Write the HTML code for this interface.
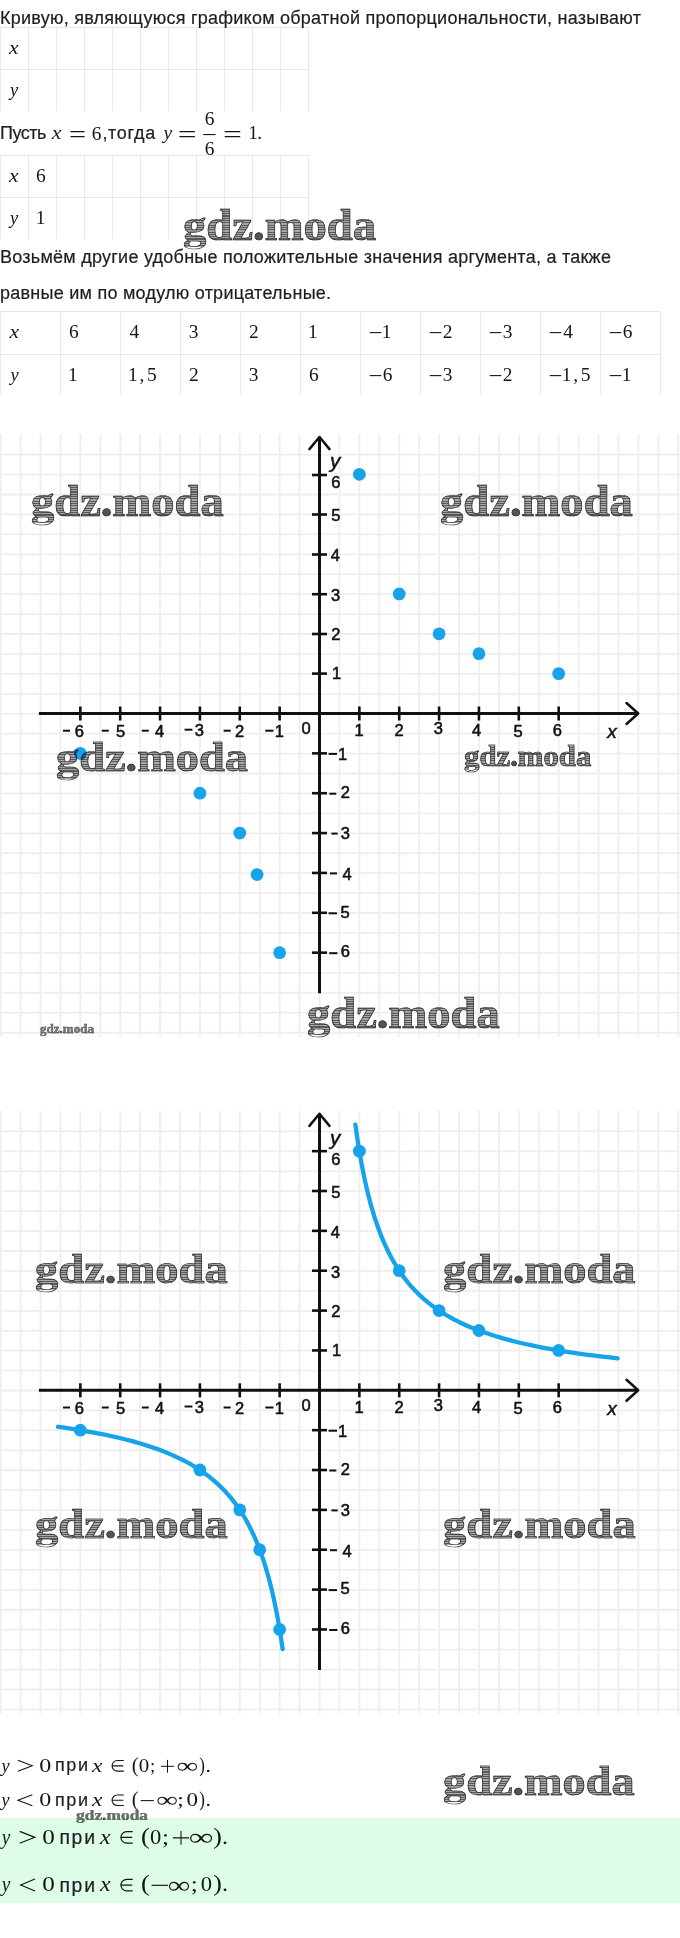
<!DOCTYPE html><html><head><meta charset="utf-8"><style>
*{margin:0;padding:0;box-sizing:border-box}
html,body{width:680px;height:1938px;background:#fff;overflow:hidden}
body{position:relative;font-family:'Liberation Sans', sans-serif;color:#1e1e22}
.t{position:absolute;left:0;white-space:nowrap;font-size:18px;letter-spacing:0.25px;line-height:20px;-webkit-text-stroke:0.2px #1e1e22}
.hl{position:absolute;height:1px;background:#e8e8e8}
.vl{position:absolute;width:1px;background:#e8e8e8}
.wm{position:absolute;white-space:nowrap;font-family:'Liberation Serif', serif;font-weight:bold;line-height:1;transform-origin:0 0;
  background:repeating-linear-gradient(180deg,#5a5a5a 0 1.1px,#a8a8a8 1.1px 2.3px);-webkit-background-clip:text;background-clip:text;
  color:transparent;-webkit-text-stroke:0.7px #333;mix-blend-mode:multiply}
svg{position:absolute;left:0;top:0}
.wd{color:#555;-webkit-text-fill-color:#555}
</style></head><body>
<div style="position:absolute;left:0;top:1818px;width:680px;height:84.5px;background:#ddfde8"></div>
<div style="position:absolute;left:0;top:1817.5px;width:680px;height:1.5px;background:#e4f2e8"></div>
<div class="hl" style="left:0px;top:27px;width:309px"></div>
<div class="hl" style="left:0px;top:69px;width:309px"></div>
<div class="vl" style="left:0px;top:27px;height:84px"></div>
<div class="vl" style="left:28px;top:27px;height:84px"></div>
<div class="vl" style="left:56px;top:27px;height:84px"></div>
<div class="vl" style="left:84px;top:27px;height:84px"></div>
<div class="vl" style="left:112px;top:27px;height:84px"></div>
<div class="vl" style="left:140px;top:27px;height:84px"></div>
<div class="vl" style="left:168px;top:27px;height:84px"></div>
<div class="vl" style="left:196px;top:27px;height:84px"></div>
<div class="vl" style="left:224px;top:27px;height:84px"></div>
<div class="vl" style="left:252px;top:27px;height:84px"></div>
<div class="vl" style="left:280px;top:27px;height:84px"></div>
<div class="vl" style="left:308px;top:27px;height:84px"></div>
<div class="hl" style="left:0px;top:155px;width:309px"></div>
<div class="hl" style="left:0px;top:197px;width:309px"></div>
<div class="vl" style="left:0px;top:155px;height:84px"></div>
<div class="vl" style="left:28px;top:155px;height:84px"></div>
<div class="vl" style="left:56px;top:155px;height:84px"></div>
<div class="vl" style="left:84px;top:155px;height:84px"></div>
<div class="vl" style="left:112px;top:155px;height:84px"></div>
<div class="vl" style="left:140px;top:155px;height:84px"></div>
<div class="vl" style="left:168px;top:155px;height:84px"></div>
<div class="vl" style="left:196px;top:155px;height:84px"></div>
<div class="vl" style="left:224px;top:155px;height:84px"></div>
<div class="vl" style="left:252px;top:155px;height:84px"></div>
<div class="vl" style="left:280px;top:155px;height:84px"></div>
<div class="vl" style="left:308px;top:155px;height:84px"></div>
<div class="hl" style="left:0px;top:311px;width:661px"></div>
<div class="hl" style="left:0px;top:354px;width:661px"></div>
<div class="vl" style="left:0px;top:311px;height:84px"></div>
<div class="vl" style="left:60px;top:311px;height:84px"></div>
<div class="vl" style="left:120px;top:311px;height:84px"></div>
<div class="vl" style="left:180px;top:311px;height:84px"></div>
<div class="vl" style="left:240px;top:311px;height:84px"></div>
<div class="vl" style="left:300px;top:311px;height:84px"></div>
<div class="vl" style="left:360px;top:311px;height:84px"></div>
<div class="vl" style="left:420px;top:311px;height:84px"></div>
<div class="vl" style="left:480px;top:311px;height:84px"></div>
<div class="vl" style="left:540px;top:311px;height:84px"></div>
<div class="vl" style="left:600px;top:311px;height:84px"></div>
<div class="vl" style="left:660px;top:311px;height:84px"></div>
<div class="t" style="top:7.6px;left:0px;">Кривую, являющуюся графиком обратной пропорциональности, называют</div>
<div class="t" style="top:123.1px;left:0px;letter-spacing:-0.5px">Пусть</div>
<div class="t" style="top:123.1px;left:102.5px;">,</div>
<div class="t" style="top:123.1px;left:108.1px;letter-spacing:0.7px">тогда</div>
<div class="t" style="top:247.0px;left:0px;">Возьмём другие удобные положительные значения аргумента, а также</div>
<div class="t" style="top:283.1px;left:0px;">равные им по модулю отрицательные.</div>
<div class="t" style="top:1755.3px;left:55.0px;font-size:18.0px;letter-spacing:1.60px">при</div>
<div class="t" style="top:1789.7px;left:55.0px;font-size:18.0px;letter-spacing:1.60px">при</div>
<div class="t" style="top:1827.3px;left:59.4px;font-size:19.4px;letter-spacing:1.73px">при</div>
<div class="t" style="top:1875.0px;left:59.4px;font-size:19.4px;letter-spacing:1.73px">при</div>
<svg width="680" height="1938" viewBox="0 0 680 1938"><g stroke="#eeeeee" stroke-width="1.8"><line x1="0.67" y1="433.90" x2="0.67" y2="1036.60"/><line x1="20.60" y1="433.90" x2="20.60" y2="1036.60"/><line x1="40.53" y1="433.90" x2="40.53" y2="1036.60"/><line x1="60.46" y1="433.90" x2="60.46" y2="1036.60"/><line x1="80.39" y1="433.90" x2="80.39" y2="1036.60"/><line x1="100.32" y1="433.90" x2="100.32" y2="1036.60"/><line x1="120.25" y1="433.90" x2="120.25" y2="1036.60"/><line x1="140.18" y1="433.90" x2="140.18" y2="1036.60"/><line x1="160.11" y1="433.90" x2="160.11" y2="1036.60"/><line x1="180.04" y1="433.90" x2="180.04" y2="1036.60"/><line x1="199.97" y1="433.90" x2="199.97" y2="1036.60"/><line x1="219.90" y1="433.90" x2="219.90" y2="1036.60"/><line x1="239.83" y1="433.90" x2="239.83" y2="1036.60"/><line x1="259.76" y1="433.90" x2="259.76" y2="1036.60"/><line x1="279.69" y1="433.90" x2="279.69" y2="1036.60"/><line x1="299.62" y1="433.90" x2="299.62" y2="1036.60"/><line x1="319.55" y1="433.90" x2="319.55" y2="1036.60"/><line x1="339.48" y1="433.90" x2="339.48" y2="1036.60"/><line x1="359.41" y1="433.90" x2="359.41" y2="1036.60"/><line x1="379.34" y1="433.90" x2="379.34" y2="1036.60"/><line x1="399.27" y1="433.90" x2="399.27" y2="1036.60"/><line x1="419.20" y1="433.90" x2="419.20" y2="1036.60"/><line x1="439.13" y1="433.90" x2="439.13" y2="1036.60"/><line x1="459.06" y1="433.90" x2="459.06" y2="1036.60"/><line x1="478.99" y1="433.90" x2="478.99" y2="1036.60"/><line x1="498.92" y1="433.90" x2="498.92" y2="1036.60"/><line x1="518.85" y1="433.90" x2="518.85" y2="1036.60"/><line x1="538.78" y1="433.90" x2="538.78" y2="1036.60"/><line x1="558.71" y1="433.90" x2="558.71" y2="1036.60"/><line x1="578.64" y1="433.90" x2="578.64" y2="1036.60"/><line x1="598.57" y1="433.90" x2="598.57" y2="1036.60"/><line x1="618.50" y1="433.90" x2="618.50" y2="1036.60"/><line x1="638.43" y1="433.90" x2="638.43" y2="1036.60"/><line x1="658.36" y1="433.90" x2="658.36" y2="1036.60"/><line x1="678.29" y1="433.90" x2="678.29" y2="1036.60"/><line x1="0" y1="454.63" x2="680" y2="454.63"/><line x1="0" y1="474.56" x2="680" y2="474.56"/><line x1="0" y1="494.49" x2="680" y2="494.49"/><line x1="0" y1="514.42" x2="680" y2="514.42"/><line x1="0" y1="534.35" x2="680" y2="534.35"/><line x1="0" y1="554.28" x2="680" y2="554.28"/><line x1="0" y1="574.21" x2="680" y2="574.21"/><line x1="0" y1="594.14" x2="680" y2="594.14"/><line x1="0" y1="614.07" x2="680" y2="614.07"/><line x1="0" y1="634.00" x2="680" y2="634.00"/><line x1="0" y1="653.93" x2="680" y2="653.93"/><line x1="0" y1="673.86" x2="680" y2="673.86"/><line x1="0" y1="693.79" x2="680" y2="693.79"/><line x1="0" y1="713.72" x2="680" y2="713.72"/><line x1="0" y1="733.65" x2="680" y2="733.65"/><line x1="0" y1="753.58" x2="680" y2="753.58"/><line x1="0" y1="773.51" x2="680" y2="773.51"/><line x1="0" y1="793.44" x2="680" y2="793.44"/><line x1="0" y1="813.37" x2="680" y2="813.37"/><line x1="0" y1="833.30" x2="680" y2="833.30"/><line x1="0" y1="853.23" x2="680" y2="853.23"/><line x1="0" y1="873.16" x2="680" y2="873.16"/><line x1="0" y1="893.09" x2="680" y2="893.09"/><line x1="0" y1="913.02" x2="680" y2="913.02"/><line x1="0" y1="932.95" x2="680" y2="932.95"/><line x1="0" y1="952.88" x2="680" y2="952.88"/><line x1="0" y1="972.81" x2="680" y2="972.81"/><line x1="0" y1="992.74" x2="680" y2="992.74"/><line x1="0" y1="1012.67" x2="680" y2="1012.67"/><line x1="0" y1="1032.60" x2="680" y2="1032.60"/></g><g stroke="#111" stroke-width="3" fill="none" stroke-linejoin="round"><path d="M38.9 713.50 H637"/><path d="M626.5 703.00 L638.2 713.50 L626.5 724.00" stroke-linecap="round" stroke-width="2.5"/><path d="M319.5 993.30 V438.00"/><path d="M309.4 449.10 L319.5 437.00 L329.5 449.10" stroke-linecap="round" stroke-width="2.5"/></g><g stroke="#111" stroke-width="2.6"><line x1="80.34" y1="706.50" x2="80.34" y2="720.50"/><line x1="312" y1="952.66" x2="327" y2="952.66"/><line x1="120.20" y1="706.50" x2="120.20" y2="720.50"/><line x1="312" y1="912.80" x2="327" y2="912.80"/><line x1="160.06" y1="706.50" x2="160.06" y2="720.50"/><line x1="312" y1="872.94" x2="327" y2="872.94"/><line x1="199.92" y1="706.50" x2="199.92" y2="720.50"/><line x1="312" y1="833.08" x2="327" y2="833.08"/><line x1="239.78" y1="706.50" x2="239.78" y2="720.50"/><line x1="312" y1="793.22" x2="327" y2="793.22"/><line x1="279.64" y1="706.50" x2="279.64" y2="720.50"/><line x1="312" y1="753.36" x2="327" y2="753.36"/><line x1="359.36" y1="706.50" x2="359.36" y2="720.50"/><line x1="312" y1="673.60" x2="327" y2="673.60"/><line x1="399.22" y1="706.50" x2="399.22" y2="720.50"/><line x1="312" y1="634.00" x2="327" y2="634.00"/><line x1="439.08" y1="706.50" x2="439.08" y2="720.50"/><line x1="312" y1="594.20" x2="327" y2="594.20"/><line x1="478.94" y1="706.50" x2="478.94" y2="720.50"/><line x1="312" y1="554.50" x2="327" y2="554.50"/><line x1="518.80" y1="706.50" x2="518.80" y2="720.50"/><line x1="312" y1="514.50" x2="327" y2="514.50"/><line x1="558.66" y1="706.50" x2="558.66" y2="720.50"/><line x1="312" y1="475.00" x2="327" y2="475.00"/></g><g font-family="Liberation Sans, sans-serif" font-size="16.5" fill="#111" stroke="#111" stroke-width="0.55" text-anchor="middle"><text x="79.4" y="737.2">6</text><rect x="63.0" y="729.7" width="7.0" height="2" stroke="none"/><text x="120.6" y="737.2">5</text><rect x="101.8" y="729.7" width="7.0" height="2" stroke="none"/><text x="159.6" y="737.2">4</text><rect x="141.8" y="729.7" width="7.0" height="2" stroke="none"/><text x="199.4" y="736.2">3</text><rect x="184.6" y="728.7" width="7.8" height="2" stroke="none"/><text x="239.7" y="737.2">2</text><rect x="223.6" y="729.7" width="7.1" height="2" stroke="none"/><text x="279.4" y="737.2">1</text><rect x="265.3" y="729.7" width="8.2" height="2" stroke="none"/><text x="306.2" y="733.8">0</text><text x="359.2" y="735.8">1</text><text x="399.1" y="736.2">2</text><text x="438.3" y="734.4">3</text><text x="476.7" y="736.2">4</text><text x="518.2" y="737.0">5</text><text x="557.4" y="736.2">6</text><text x="335.9" y="487.7">6</text><text x="335.9" y="521.2">5</text><text x="335.3" y="560.8">4</text><text x="335.6" y="601.0">3</text><text x="335.9" y="640.0">2</text><text x="336.6" y="678.9">1</text><text x="342.5" y="760.0">1</text><rect x="328.6" y="752.9" width="8.4" height="2" stroke="none"/><text x="345.3" y="798.3">2</text><rect x="329.3" y="792.7" width="7.0" height="2" stroke="none"/><text x="345.3" y="838.8">3</text><rect x="331.4" y="832.6" width="6.3" height="2" stroke="none"/><text x="347.0" y="880.0">4</text><rect x="330.0" y="872.4" width="7.0" height="2" stroke="none"/><text x="345.0" y="917.6">5</text><rect x="328.6" y="912.3" width="8.4" height="2" stroke="none"/><text x="345.3" y="957.3">6</text><rect x="329.3" y="952.2" width="8.1" height="2" stroke="none"/></g><g font-family="Liberation Sans, sans-serif" font-style="italic" fill="#111" stroke="#111" stroke-width="0.5"><text x="330.0" y="467.9" font-size="20.5">y</text><text x="607.3" y="738.0" font-size="19">x</text></g><circle cx="359.36" cy="474.34" r="6.4" fill="#17a3ea"/><circle cx="399.22" cy="593.92" r="6.4" fill="#17a3ea"/><circle cx="439.08" cy="633.78" r="6.4" fill="#17a3ea"/><circle cx="478.94" cy="653.71" r="6.4" fill="#17a3ea"/><circle cx="558.66" cy="673.64" r="6.4" fill="#17a3ea"/><circle cx="279.64" cy="952.66" r="6.4" fill="#17a3ea"/><circle cx="239.78" cy="833.08" r="6.4" fill="#17a3ea"/><circle cx="199.92" cy="793.22" r="6.4" fill="#17a3ea"/><circle cx="257.08" cy="874.53" r="6.4" fill="#17a3ea"/><circle cx="80.34" cy="753.36" r="6.4" fill="#17a3ea"/><g stroke="#eeeeee" stroke-width="1.8"><line x1="0.67" y1="1110.70" x2="0.67" y2="1713.40"/><line x1="20.60" y1="1110.70" x2="20.60" y2="1713.40"/><line x1="40.53" y1="1110.70" x2="40.53" y2="1713.40"/><line x1="60.46" y1="1110.70" x2="60.46" y2="1713.40"/><line x1="80.39" y1="1110.70" x2="80.39" y2="1713.40"/><line x1="100.32" y1="1110.70" x2="100.32" y2="1713.40"/><line x1="120.25" y1="1110.70" x2="120.25" y2="1713.40"/><line x1="140.18" y1="1110.70" x2="140.18" y2="1713.40"/><line x1="160.11" y1="1110.70" x2="160.11" y2="1713.40"/><line x1="180.04" y1="1110.70" x2="180.04" y2="1713.40"/><line x1="199.97" y1="1110.70" x2="199.97" y2="1713.40"/><line x1="219.90" y1="1110.70" x2="219.90" y2="1713.40"/><line x1="239.83" y1="1110.70" x2="239.83" y2="1713.40"/><line x1="259.76" y1="1110.70" x2="259.76" y2="1713.40"/><line x1="279.69" y1="1110.70" x2="279.69" y2="1713.40"/><line x1="299.62" y1="1110.70" x2="299.62" y2="1713.40"/><line x1="319.55" y1="1110.70" x2="319.55" y2="1713.40"/><line x1="339.48" y1="1110.70" x2="339.48" y2="1713.40"/><line x1="359.41" y1="1110.70" x2="359.41" y2="1713.40"/><line x1="379.34" y1="1110.70" x2="379.34" y2="1713.40"/><line x1="399.27" y1="1110.70" x2="399.27" y2="1713.40"/><line x1="419.20" y1="1110.70" x2="419.20" y2="1713.40"/><line x1="439.13" y1="1110.70" x2="439.13" y2="1713.40"/><line x1="459.06" y1="1110.70" x2="459.06" y2="1713.40"/><line x1="478.99" y1="1110.70" x2="478.99" y2="1713.40"/><line x1="498.92" y1="1110.70" x2="498.92" y2="1713.40"/><line x1="518.85" y1="1110.70" x2="518.85" y2="1713.40"/><line x1="538.78" y1="1110.70" x2="538.78" y2="1713.40"/><line x1="558.71" y1="1110.70" x2="558.71" y2="1713.40"/><line x1="578.64" y1="1110.70" x2="578.64" y2="1713.40"/><line x1="598.57" y1="1110.70" x2="598.57" y2="1713.40"/><line x1="618.50" y1="1110.70" x2="618.50" y2="1713.40"/><line x1="638.43" y1="1110.70" x2="638.43" y2="1713.40"/><line x1="658.36" y1="1110.70" x2="658.36" y2="1713.40"/><line x1="678.29" y1="1110.70" x2="678.29" y2="1713.40"/><line x1="0" y1="1131.43" x2="680" y2="1131.43"/><line x1="0" y1="1151.36" x2="680" y2="1151.36"/><line x1="0" y1="1171.29" x2="680" y2="1171.29"/><line x1="0" y1="1191.22" x2="680" y2="1191.22"/><line x1="0" y1="1211.15" x2="680" y2="1211.15"/><line x1="0" y1="1231.08" x2="680" y2="1231.08"/><line x1="0" y1="1251.01" x2="680" y2="1251.01"/><line x1="0" y1="1270.94" x2="680" y2="1270.94"/><line x1="0" y1="1290.87" x2="680" y2="1290.87"/><line x1="0" y1="1310.80" x2="680" y2="1310.80"/><line x1="0" y1="1330.73" x2="680" y2="1330.73"/><line x1="0" y1="1350.66" x2="680" y2="1350.66"/><line x1="0" y1="1370.59" x2="680" y2="1370.59"/><line x1="0" y1="1390.52" x2="680" y2="1390.52"/><line x1="0" y1="1410.45" x2="680" y2="1410.45"/><line x1="0" y1="1430.38" x2="680" y2="1430.38"/><line x1="0" y1="1450.31" x2="680" y2="1450.31"/><line x1="0" y1="1470.24" x2="680" y2="1470.24"/><line x1="0" y1="1490.17" x2="680" y2="1490.17"/><line x1="0" y1="1510.10" x2="680" y2="1510.10"/><line x1="0" y1="1530.03" x2="680" y2="1530.03"/><line x1="0" y1="1549.96" x2="680" y2="1549.96"/><line x1="0" y1="1569.89" x2="680" y2="1569.89"/><line x1="0" y1="1589.82" x2="680" y2="1589.82"/><line x1="0" y1="1609.75" x2="680" y2="1609.75"/><line x1="0" y1="1629.68" x2="680" y2="1629.68"/><line x1="0" y1="1649.61" x2="680" y2="1649.61"/><line x1="0" y1="1669.54" x2="680" y2="1669.54"/><line x1="0" y1="1689.47" x2="680" y2="1689.47"/><line x1="0" y1="1709.40" x2="680" y2="1709.40"/></g><g stroke="#111" stroke-width="3" fill="none" stroke-linejoin="round"><path d="M38.9 1390.30 H637"/><path d="M626.5 1379.80 L638.2 1390.30 L626.5 1400.80" stroke-linecap="round" stroke-width="2.5"/><path d="M319.5 1670.10 V1114.80"/><path d="M309.4 1125.90 L319.5 1113.80 L329.5 1125.90" stroke-linecap="round" stroke-width="2.5"/></g><g stroke="#111" stroke-width="2.6"><line x1="80.34" y1="1383.30" x2="80.34" y2="1397.30"/><line x1="312" y1="1629.46" x2="327" y2="1629.46"/><line x1="120.20" y1="1383.30" x2="120.20" y2="1397.30"/><line x1="312" y1="1589.60" x2="327" y2="1589.60"/><line x1="160.06" y1="1383.30" x2="160.06" y2="1397.30"/><line x1="312" y1="1549.74" x2="327" y2="1549.74"/><line x1="199.92" y1="1383.30" x2="199.92" y2="1397.30"/><line x1="312" y1="1509.88" x2="327" y2="1509.88"/><line x1="239.78" y1="1383.30" x2="239.78" y2="1397.30"/><line x1="312" y1="1470.02" x2="327" y2="1470.02"/><line x1="279.64" y1="1383.30" x2="279.64" y2="1397.30"/><line x1="312" y1="1430.16" x2="327" y2="1430.16"/><line x1="359.36" y1="1383.30" x2="359.36" y2="1397.30"/><line x1="312" y1="1350.44" x2="327" y2="1350.44"/><line x1="399.22" y1="1383.30" x2="399.22" y2="1397.30"/><line x1="312" y1="1310.58" x2="327" y2="1310.58"/><line x1="439.08" y1="1383.30" x2="439.08" y2="1397.30"/><line x1="312" y1="1270.72" x2="327" y2="1270.72"/><line x1="478.94" y1="1383.30" x2="478.94" y2="1397.30"/><line x1="312" y1="1230.86" x2="327" y2="1230.86"/><line x1="518.80" y1="1383.30" x2="518.80" y2="1397.30"/><line x1="312" y1="1191.00" x2="327" y2="1191.00"/><line x1="558.66" y1="1383.30" x2="558.66" y2="1397.30"/><line x1="312" y1="1151.14" x2="327" y2="1151.14"/></g><g font-family="Liberation Sans, sans-serif" font-size="16.5" fill="#111" stroke="#111" stroke-width="0.55" text-anchor="middle"><text x="79.4" y="1414.0">6</text><rect x="63.0" y="1406.5" width="7.0" height="2" stroke="none"/><text x="120.6" y="1414.0">5</text><rect x="101.8" y="1406.5" width="7.0" height="2" stroke="none"/><text x="159.6" y="1414.0">4</text><rect x="141.8" y="1406.5" width="7.0" height="2" stroke="none"/><text x="199.4" y="1413.0">3</text><rect x="184.6" y="1405.5" width="7.8" height="2" stroke="none"/><text x="239.7" y="1414.0">2</text><rect x="223.6" y="1406.5" width="7.1" height="2" stroke="none"/><text x="279.4" y="1414.0">1</text><rect x="265.3" y="1406.5" width="8.2" height="2" stroke="none"/><text x="306.2" y="1410.6">0</text><text x="359.2" y="1412.6">1</text><text x="399.1" y="1413.0">2</text><text x="438.3" y="1411.2">3</text><text x="476.7" y="1413.0">4</text><text x="518.2" y="1413.8">5</text><text x="557.4" y="1413.0">6</text><text x="335.9" y="1164.5">6</text><text x="335.9" y="1198.0">5</text><text x="335.3" y="1237.6">4</text><text x="335.6" y="1277.8">3</text><text x="335.9" y="1316.8">2</text><text x="336.6" y="1355.7">1</text><text x="342.5" y="1436.8">1</text><rect x="328.6" y="1429.7" width="8.4" height="2" stroke="none"/><text x="345.3" y="1475.1">2</text><rect x="329.3" y="1469.5" width="7.0" height="2" stroke="none"/><text x="345.3" y="1515.6">3</text><rect x="331.4" y="1509.4" width="6.3" height="2" stroke="none"/><text x="347.0" y="1556.8">4</text><rect x="330.0" y="1549.2" width="7.0" height="2" stroke="none"/><text x="345.0" y="1594.4">5</text><rect x="328.6" y="1589.1" width="8.4" height="2" stroke="none"/><text x="345.3" y="1634.1">6</text><rect x="329.3" y="1629.0" width="8.1" height="2" stroke="none"/></g><g font-family="Liberation Sans, sans-serif" font-style="italic" fill="#111" stroke="#111" stroke-width="0.5"><text x="330.0" y="1144.7" font-size="20.5">y</text><text x="607.3" y="1414.8" font-size="19">x</text></g><path d="M355.37 1124.57 L356.34 1131.51 L357.32 1138.27 L358.34 1144.85 L359.38 1151.26 L360.45 1157.51 L361.55 1163.59 L362.68 1169.51 L363.83 1175.28 L365.02 1180.90 L366.25 1186.37 L367.50 1191.69 L368.79 1196.88 L370.11 1201.93 L371.47 1206.86 L372.86 1211.65 L374.29 1216.31 L375.76 1220.86 L377.27 1225.29 L378.82 1229.60 L380.41 1233.79 L382.04 1237.88 L383.72 1241.86 L385.44 1245.74 L387.21 1249.52 L389.03 1253.20 L390.90 1256.78 L392.81 1260.26 L394.78 1263.66 L396.80 1266.97 L398.87 1270.19 L401.00 1273.33 L403.18 1276.38 L405.43 1279.36 L407.73 1282.26 L410.10 1285.08 L412.53 1287.83 L415.03 1290.51 L417.59 1293.11 L420.22 1295.65 L422.92 1298.12 L425.70 1300.53 L428.54 1302.88 L431.47 1305.16 L434.47 1307.38 L437.56 1309.55 L440.72 1311.66 L443.97 1313.71 L447.31 1315.72 L450.74 1317.66 L454.26 1319.56 L457.88 1321.41 L461.59 1323.21 L465.40 1324.96 L469.31 1326.67 L473.33 1328.33 L477.46 1329.95 L481.69 1331.53 L486.05 1333.06 L490.51 1334.56 L495.10 1336.01 L499.81 1337.43 L504.65 1338.81 L509.61 1340.16 L514.71 1341.47 L519.95 1342.74 L525.33 1343.98 L530.85 1345.19 L536.52 1346.37 L542.34 1347.52 L548.31 1348.64 L554.45 1349.73 L560.75 1350.79 L567.22 1351.82 L573.87 1352.82 L580.69 1353.80 L587.70 1354.76 L594.89 1355.68 L602.28 1356.59 L609.86 1357.47 L617.65 1358.33" fill="none" stroke="#17a3ea" stroke-width="4.3" stroke-linecap="round" stroke-linejoin="round"/><path d="M282.67 1649.13 L281.76 1642.87 L280.82 1636.75 L279.86 1630.79 L278.88 1624.97 L277.87 1619.29 L276.84 1613.75 L275.78 1608.34 L274.69 1603.06 L273.58 1597.91 L272.44 1592.89 L271.28 1587.98 L270.08 1583.20 L268.86 1578.53 L267.60 1573.98 L266.31 1569.53 L264.99 1565.19 L263.64 1560.96 L262.26 1556.83 L260.84 1552.80 L259.38 1548.87 L257.89 1545.03 L256.36 1541.28 L254.79 1537.63 L253.19 1534.06 L251.55 1530.58 L249.86 1527.19 L248.13 1523.88 L246.36 1520.64 L244.55 1517.49 L242.69 1514.41 L240.78 1511.41 L238.83 1508.47 L236.83 1505.61 L234.78 1502.82 L232.68 1500.10 L230.53 1497.44 L228.32 1494.85 L226.06 1492.32 L223.74 1489.85 L221.36 1487.44 L218.93 1485.09 L216.44 1482.80 L213.88 1480.56 L211.26 1478.37 L208.58 1476.24 L205.82 1474.16 L203.00 1472.13 L200.12 1470.15 L197.15 1468.22 L194.12 1466.33 L191.01 1464.49 L187.82 1462.70 L184.56 1460.94 L181.21 1459.23 L177.78 1457.57 L174.26 1455.94 L170.66 1454.35 L166.97 1452.80 L163.19 1451.29 L159.31 1449.81 L155.34 1448.37 L151.27 1446.96 L147.09 1445.59 L142.82 1444.25 L138.43 1442.95 L133.94 1441.67 L129.34 1440.43 L124.62 1439.22 L119.79 1438.03 L114.84 1436.88 L109.76 1435.75 L104.56 1434.65 L99.23 1433.58 L93.77 1432.53 L88.17 1431.51 L82.43 1430.51 L76.55 1429.54 L70.52 1428.59 L64.35 1427.66 L58.02 1426.76" fill="none" stroke="#17a3ea" stroke-width="4.3" stroke-linecap="round" stroke-linejoin="round"/><circle cx="359.36" cy="1151.14" r="6.4" fill="#17a3ea"/><circle cx="399.22" cy="1270.72" r="6.4" fill="#17a3ea"/><circle cx="439.08" cy="1310.58" r="6.4" fill="#17a3ea"/><circle cx="478.94" cy="1330.51" r="6.4" fill="#17a3ea"/><circle cx="558.66" cy="1350.44" r="6.4" fill="#17a3ea"/><circle cx="279.64" cy="1629.46" r="6.4" fill="#17a3ea"/><circle cx="239.78" cy="1509.88" r="6.4" fill="#17a3ea"/><circle cx="199.92" cy="1470.02" r="6.4" fill="#17a3ea"/><circle cx="259.71" cy="1549.74" r="6.4" fill="#17a3ea"/><circle cx="80.34" cy="1430.16" r="6.4" fill="#17a3ea"/></svg>
<svg width="680" height="1938" viewBox="0 0 680 1938"><text transform="translate(9.02,53.50) scale(1.112,1.000)" font-family="Liberation Serif" font-style="italic" font-weight="normal" font-size="19.40" fill="#151515" >x</text><text transform="translate(9.97,95.50) scale(0.953,1.000)" font-family="Liberation Serif" font-style="italic" font-weight="normal" font-size="19.40" fill="#151515" >y</text><text transform="translate(9.02,181.60) scale(1.112,1.000)" font-family="Liberation Serif" font-style="italic" font-weight="normal" font-size="19.40" fill="#151515" >x</text><text transform="translate(9.97,224.20) scale(0.953,1.000)" font-family="Liberation Serif" font-style="italic" font-weight="normal" font-size="19.40" fill="#151515" >y</text><text transform="translate(35.93,182.00)" font-family="Liberation Serif" font-style="normal" font-weight="normal" font-size="19.40" fill="#151515" >6</text><text transform="translate(35.75,224.20)" font-family="Liberation Serif" font-style="normal" font-weight="normal" font-size="19.40" fill="#151515" >1</text><text transform="translate(9.52,338.00) scale(1.112,1.000)" font-family="Liberation Serif" font-style="italic" font-weight="normal" font-size="19.40" fill="#151515" >x</text><text transform="translate(10.47,381.20) scale(0.953,1.000)" font-family="Liberation Serif" font-style="italic" font-weight="normal" font-size="19.40" fill="#151515" >y</text><text transform="translate(68.93,338.00)" font-family="Liberation Serif" font-style="normal" font-weight="normal" font-size="19.40" fill="#151515" >6</text><text transform="translate(68.05,381.20)" font-family="Liberation Serif" font-style="normal" font-weight="normal" font-size="19.40" fill="#151515" >1</text><text transform="translate(129.41,338.00)" font-family="Liberation Serif" font-style="normal" font-weight="normal" font-size="19.40" fill="#151515" >4</text><text transform="translate(128.05,381.20)" font-family="Liberation Serif" font-style="normal" font-weight="normal" font-size="19.40" fill="#151515" >1</text><text transform="translate(139.41,381.20)" font-family="Liberation Serif" font-style="normal" font-weight="normal" font-size="19.40" fill="#151515" >,</text><text transform="translate(147.03,381.20)" font-family="Liberation Serif" font-style="normal" font-weight="normal" font-size="19.40" fill="#151515" >5</text><text transform="translate(188.83,338.00)" font-family="Liberation Serif" font-style="normal" font-weight="normal" font-size="19.40" fill="#151515" >3</text><text transform="translate(188.93,381.20)" font-family="Liberation Serif" font-style="normal" font-weight="normal" font-size="19.40" fill="#151515" >2</text><text transform="translate(248.93,338.00)" font-family="Liberation Serif" font-style="normal" font-weight="normal" font-size="19.40" fill="#151515" >2</text><text transform="translate(248.83,381.20)" font-family="Liberation Serif" font-style="normal" font-weight="normal" font-size="19.40" fill="#151515" >3</text><text transform="translate(308.05,338.00)" font-family="Liberation Serif" font-style="normal" font-weight="normal" font-size="19.40" fill="#151515" >1</text><text transform="translate(308.93,381.20)" font-family="Liberation Serif" font-style="normal" font-weight="normal" font-size="19.40" fill="#151515" >6</text><text transform="translate(368.55,339.81) scale(1.286,1.134)" font-family="Liberation Serif" font-style="normal" font-weight="normal" font-size="19.40" fill="#151515" >−</text><text transform="translate(381.85,338.00)" font-family="Liberation Serif" font-style="normal" font-weight="normal" font-size="19.40" fill="#151515" >1</text><text transform="translate(368.55,383.01) scale(1.286,1.134)" font-family="Liberation Serif" font-style="normal" font-weight="normal" font-size="19.40" fill="#151515" >−</text><text transform="translate(382.73,381.20)" font-family="Liberation Serif" font-style="normal" font-weight="normal" font-size="19.40" fill="#151515" >6</text><text transform="translate(428.55,339.81) scale(1.286,1.134)" font-family="Liberation Serif" font-style="normal" font-weight="normal" font-size="19.40" fill="#151515" >−</text><text transform="translate(442.73,338.00)" font-family="Liberation Serif" font-style="normal" font-weight="normal" font-size="19.40" fill="#151515" >2</text><text transform="translate(428.55,383.01) scale(1.286,1.134)" font-family="Liberation Serif" font-style="normal" font-weight="normal" font-size="19.40" fill="#151515" >−</text><text transform="translate(442.63,381.20)" font-family="Liberation Serif" font-style="normal" font-weight="normal" font-size="19.40" fill="#151515" >3</text><text transform="translate(488.55,339.81) scale(1.286,1.134)" font-family="Liberation Serif" font-style="normal" font-weight="normal" font-size="19.40" fill="#151515" >−</text><text transform="translate(502.63,338.00)" font-family="Liberation Serif" font-style="normal" font-weight="normal" font-size="19.40" fill="#151515" >3</text><text transform="translate(488.55,383.01) scale(1.286,1.134)" font-family="Liberation Serif" font-style="normal" font-weight="normal" font-size="19.40" fill="#151515" >−</text><text transform="translate(502.73,381.20)" font-family="Liberation Serif" font-style="normal" font-weight="normal" font-size="19.40" fill="#151515" >2</text><text transform="translate(548.55,339.81) scale(1.286,1.134)" font-family="Liberation Serif" font-style="normal" font-weight="normal" font-size="19.40" fill="#151515" >−</text><text transform="translate(563.21,338.00)" font-family="Liberation Serif" font-style="normal" font-weight="normal" font-size="19.40" fill="#151515" >4</text><text transform="translate(548.55,383.01) scale(1.286,1.134)" font-family="Liberation Serif" font-style="normal" font-weight="normal" font-size="19.40" fill="#151515" >−</text><text transform="translate(561.85,381.20)" font-family="Liberation Serif" font-style="normal" font-weight="normal" font-size="19.40" fill="#151515" >1</text><text transform="translate(573.21,381.20)" font-family="Liberation Serif" font-style="normal" font-weight="normal" font-size="19.40" fill="#151515" >,</text><text transform="translate(580.83,381.20)" font-family="Liberation Serif" font-style="normal" font-weight="normal" font-size="19.40" fill="#151515" >5</text><text transform="translate(608.55,339.81) scale(1.286,1.134)" font-family="Liberation Serif" font-style="normal" font-weight="normal" font-size="19.40" fill="#151515" >−</text><text transform="translate(622.73,338.00)" font-family="Liberation Serif" font-style="normal" font-weight="normal" font-size="19.40" fill="#151515" >6</text><text transform="translate(608.55,383.01) scale(1.286,1.134)" font-family="Liberation Serif" font-style="normal" font-weight="normal" font-size="19.40" fill="#151515" >−</text><text transform="translate(621.85,381.20)" font-family="Liberation Serif" font-style="normal" font-weight="normal" font-size="19.40" fill="#151515" >1</text><text transform="translate(51.82,139.30) scale(1.124,1.000)" font-family="Liberation Serif" font-style="italic" font-weight="normal" font-size="19.40" fill="#151515" >x</text><text transform="translate(69.08,141.86) scale(1.563,1.196)" font-family="Liberation Serif" font-style="normal" font-weight="normal" font-size="19.40" fill="#151515" >=</text><text transform="translate(91.83,139.50)" font-family="Liberation Serif" font-style="normal" font-weight="normal" font-size="19.40" fill="#151515" >6</text><text transform="translate(163.55,139.30)" font-family="Liberation Serif" font-style="italic" font-weight="normal" font-size="19.40" fill="#151515" >y</text><text transform="translate(177.83,141.86) scale(1.718,1.196)" font-family="Liberation Serif" font-style="normal" font-weight="normal" font-size="19.40" fill="#151515" >=</text><text transform="translate(204.63,125.20)" font-family="Liberation Serif" font-style="normal" font-weight="normal" font-size="19.40" fill="#151515" >6</text><rect x="203.2" y="134" width="12.4" height="1.1" fill="#151515"/><text transform="translate(204.63,154.60)" font-family="Liberation Serif" font-style="normal" font-weight="normal" font-size="19.40" fill="#151515" >6</text><text transform="translate(223.02,141.86) scale(1.729,1.196)" font-family="Liberation Serif" font-style="normal" font-weight="normal" font-size="19.40" fill="#151515" >=</text><text transform="translate(248.25,139.30)" font-family="Liberation Serif" font-style="normal" font-weight="normal" font-size="19.40" fill="#151515" >1</text><text transform="translate(257.24,139.30)" font-family="Liberation Serif" font-style="normal" font-weight="normal" font-size="19.40" fill="#151515" >.</text><text transform="translate(1.54,1771.50) scale(0.934,1.000)" font-family="Liberation Serif" font-style="italic" font-weight="normal" font-size="19.40" fill="#151515" >y</text><path d="M17.90 1760.30 L32.20 1765.80 L17.90 1771.30" fill="none" stroke="#151515" stroke-width="1.05"/><text transform="translate(39.24,1771.50) scale(1.240,1.000)" font-family="Liberation Serif" font-style="normal" font-weight="normal" font-size="19.40" fill="#151515" >0</text><text transform="translate(92.04,1771.50) scale(1.216,1.000)" font-family="Liberation Serif" font-style="italic" font-weight="normal" font-size="19.40" fill="#151515" >x</text><path d="M123.80 1760.55 H117.35 A5.30 5.30 0 0 0 117.35 1771.15 H123.80 M112.05 1765.85 H123.30" fill="none" stroke="#151515" stroke-width="1.1"/><text transform="translate(131.66,1771.67) scale(1.071,1.110)" font-family="Liberation Serif" font-style="normal" font-weight="normal" font-size="19.40" fill="#151515" >(</text><text transform="translate(199.19,1771.73) scale(0.872,1.123)" font-family="Liberation Serif" font-style="normal" font-weight="normal" font-size="19.40" fill="#151515" >)</text><text transform="translate(138.86,1771.50) scale(1.080,1.000)" font-family="Liberation Serif" font-style="normal" font-weight="normal" font-size="19.40" fill="#151515" >0</text><text transform="translate(150.33,1771.50) scale(0.893,1.000)" font-family="Liberation Serif" font-style="normal" font-weight="normal" font-size="19.40" fill="#151515" >;</text><text transform="translate(205.39,1771.50) scale(1.117,1.000)" font-family="Liberation Serif" font-style="normal" font-weight="normal" font-size="19.40" fill="#151515" >.</text><text transform="translate(176.38,1772.97) scale(1.575,1.125)" font-family="Liberation Serif" font-style="normal" font-weight="normal" font-size="19.40" fill="#151515" >∞</text><path d="M160.90 1766.30 H174.10 M167.50 1759.90 V1772.70" fill="none" stroke="#151515" stroke-width="1.00"/><text transform="translate(1.54,1805.90) scale(0.934,1.000)" font-family="Liberation Serif" font-style="italic" font-weight="normal" font-size="19.40" fill="#151515" >y</text><path d="M32.30 1794.70 L18.00 1800.20 L32.30 1805.70" fill="none" stroke="#151515" stroke-width="1.05"/><text transform="translate(39.24,1805.90) scale(1.240,1.000)" font-family="Liberation Serif" font-style="normal" font-weight="normal" font-size="19.40" fill="#151515" >0</text><text transform="translate(92.04,1805.90) scale(1.216,1.000)" font-family="Liberation Serif" font-style="italic" font-weight="normal" font-size="19.40" fill="#151515" >x</text><path d="M123.80 1794.95 H117.35 A5.30 5.30 0 0 0 117.35 1805.55 H123.80 M112.05 1800.25 H123.30" fill="none" stroke="#151515" stroke-width="1.1"/><text transform="translate(131.66,1806.07) scale(1.071,1.110)" font-family="Liberation Serif" font-style="normal" font-weight="normal" font-size="19.40" fill="#151515" >(</text><text transform="translate(199.19,1806.13) scale(0.872,1.123)" font-family="Liberation Serif" font-style="normal" font-weight="normal" font-size="19.40" fill="#151515" >)</text><text transform="translate(186.38,1805.90) scale(1.190,1.000)" font-family="Liberation Serif" font-style="normal" font-weight="normal" font-size="19.40" fill="#151515" >0</text><text transform="translate(177.33,1805.90) scale(1.203,1.000)" font-family="Liberation Serif" font-style="normal" font-weight="normal" font-size="19.40" fill="#151515" >;</text><text transform="translate(205.39,1805.90) scale(1.117,1.000)" font-family="Liberation Serif" font-style="normal" font-weight="normal" font-size="19.40" fill="#151515" >.</text><text transform="translate(156.18,1807.37) scale(1.575,1.125)" font-family="Liberation Serif" font-style="normal" font-weight="normal" font-size="19.40" fill="#151515" >∞</text><text transform="translate(139.18,1807.71) scale(1.463,1.134)" font-family="Liberation Serif" font-style="normal" font-weight="normal" font-size="19.40" fill="#151515" >−</text><text transform="translate(1.64,1843.50) scale(0.919,1.000)" font-family="Liberation Serif" font-style="italic" font-weight="normal" font-size="20.95" fill="#151515" >y</text><path d="M19.70 1831.40 L34.90 1837.35 L19.70 1843.30" fill="none" stroke="#151515" stroke-width="1.13"/><text transform="translate(42.19,1843.50) scale(1.205,1.000)" font-family="Liberation Serif" font-style="normal" font-weight="normal" font-size="20.95" fill="#151515" >0</text><text transform="translate(99.94,1843.50) scale(1.137,1.000)" font-family="Liberation Serif" font-style="italic" font-weight="normal" font-size="20.95" fill="#151515" >x</text><path d="M132.70 1831.67 H126.61 A5.72 5.72 0 0 0 126.61 1843.11 H132.70 M120.89 1837.39 H132.20" fill="none" stroke="#151515" stroke-width="1.1880000000000002"/><text transform="translate(141.12,1843.68) scale(1.254,1.110)" font-family="Liberation Serif" font-style="normal" font-weight="normal" font-size="20.95" fill="#151515" >(</text><text transform="translate(213.23,1843.74) scale(1.230,1.123)" font-family="Liberation Serif" font-style="normal" font-weight="normal" font-size="20.95" fill="#151515" >)</text><text transform="translate(150.00,1843.50) scale(1.080,1.000)" font-family="Liberation Serif" font-style="normal" font-weight="normal" font-size="20.95" fill="#151515" >0</text><text transform="translate(162.03,1843.50) scale(1.209,1.000)" font-family="Liberation Serif" font-style="normal" font-weight="normal" font-size="20.95" fill="#151515" >;</text><text transform="translate(221.93,1843.50) scale(1.153,1.000)" font-family="Liberation Serif" font-style="normal" font-weight="normal" font-size="20.95" fill="#151515" >.</text><text transform="translate(188.71,1845.09) scale(1.654,1.125)" font-family="Liberation Serif" font-style="normal" font-weight="normal" font-size="20.95" fill="#151515" >∞</text><path d="M172.90 1837.88 H189.10 M181.00 1830.97 V1844.80" fill="none" stroke="#151515" stroke-width="1.08"/><text transform="translate(1.64,1891.20) scale(0.919,1.000)" font-family="Liberation Serif" font-style="italic" font-weight="normal" font-size="20.95" fill="#151515" >y</text><path d="M35.00 1879.10 L20.70 1885.05 L35.00 1891.00" fill="none" stroke="#151515" stroke-width="1.13"/><text transform="translate(42.19,1891.20) scale(1.205,1.000)" font-family="Liberation Serif" font-style="normal" font-weight="normal" font-size="20.95" fill="#151515" >0</text><text transform="translate(99.94,1891.20) scale(1.137,1.000)" font-family="Liberation Serif" font-style="italic" font-weight="normal" font-size="20.95" fill="#151515" >x</text><path d="M132.70 1879.37 H126.61 A5.72 5.72 0 0 0 126.61 1890.81 H132.70 M120.89 1885.09 H132.20" fill="none" stroke="#151515" stroke-width="1.1880000000000002"/><text transform="translate(141.12,1891.38) scale(1.254,1.110)" font-family="Liberation Serif" font-style="normal" font-weight="normal" font-size="20.95" fill="#151515" >(</text><text transform="translate(213.23,1891.44) scale(1.230,1.123)" font-family="Liberation Serif" font-style="normal" font-weight="normal" font-size="20.95" fill="#151515" >)</text><text transform="translate(200.70,1891.20) scale(1.080,1.000)" font-family="Liberation Serif" font-style="normal" font-weight="normal" font-size="20.95" fill="#151515" >0</text><text transform="translate(190.73,1891.20) scale(1.209,1.000)" font-family="Liberation Serif" font-style="normal" font-weight="normal" font-size="20.95" fill="#151515" >;</text><text transform="translate(221.93,1891.20) scale(1.153,1.000)" font-family="Liberation Serif" font-style="normal" font-weight="normal" font-size="20.95" fill="#151515" >.</text><text transform="translate(167.73,1892.79) scale(1.511,1.125)" font-family="Liberation Serif" font-style="normal" font-weight="normal" font-size="20.95" fill="#151515" >∞</text><text transform="translate(150.05,1893.15) scale(1.673,1.134)" font-family="Liberation Serif" font-style="normal" font-weight="normal" font-size="20.95" fill="#151515" >−</text></svg>
<div class="wm" style="left:183.1px;top:203.7px;font-size:43.45px;transform:scaleX(1.074);">gdz<span class="wd">.</span>moda</div>
<div class="wm" style="left:31.1px;top:480.1px;font-size:43.31px;transform:scaleX(1.075);">gdz<span class="wd">.</span>moda</div>
<div class="wm" style="left:440.1px;top:480.1px;font-size:43.31px;transform:scaleX(1.076);">gdz<span class="wd">.</span>moda</div>
<div class="wm" style="left:55.6px;top:736.2px;font-size:42.88px;transform:scaleX(1.082);">gdz<span class="wd">.</span>moda</div>
<div class="wm" style="left:463.8px;top:741.5px;font-size:28.78px;transform:scaleX(1.069);">gdz<span class="wd">.</span>moda</div>
<div class="wm" style="left:307.4px;top:991.9px;font-size:43.31px;transform:scaleX(1.075);">gdz<span class="wd">.</span>moda</div>
<div class="wm" style="left:35.0px;top:1248.6px;font-size:41.87px;transform:scaleX(1.112);">gdz<span class="wd">.</span>moda</div>
<div class="wm" style="left:443.4px;top:1248.7px;font-size:41.15px;transform:scaleX(1.131);">gdz<span class="wd">.</span>moda</div>
<div class="wm" style="left:35.0px;top:1503.6px;font-size:41.87px;transform:scaleX(1.112);">gdz<span class="wd">.</span>moda</div>
<div class="wm" style="left:443.4px;top:1503.6px;font-size:41.87px;transform:scaleX(1.112);">gdz<span class="wd">.</span>moda</div>
<div class="wm" style="left:443.4px;top:1760.3px;font-size:42.01px;transform:scaleX(1.102);">gdz<span class="wd">.</span>moda</div>
<div class="wm" style="left:39.7px;top:1023.9px;font-size:11.80px;transform:scaleX(1.106);background:#777;-webkit-background-clip:text;-webkit-text-stroke:0.3px #555">gdz<span class="wd">.</span>moda</div>
<div class="wm" style="left:75.6px;top:1809.3px;font-size:13.67px;transform:scaleX(1.274);background:#667266;-webkit-background-clip:text;-webkit-text-stroke:0.2px #445044">gdz<span class="wd">.</span>moda</div>
</body></html>
